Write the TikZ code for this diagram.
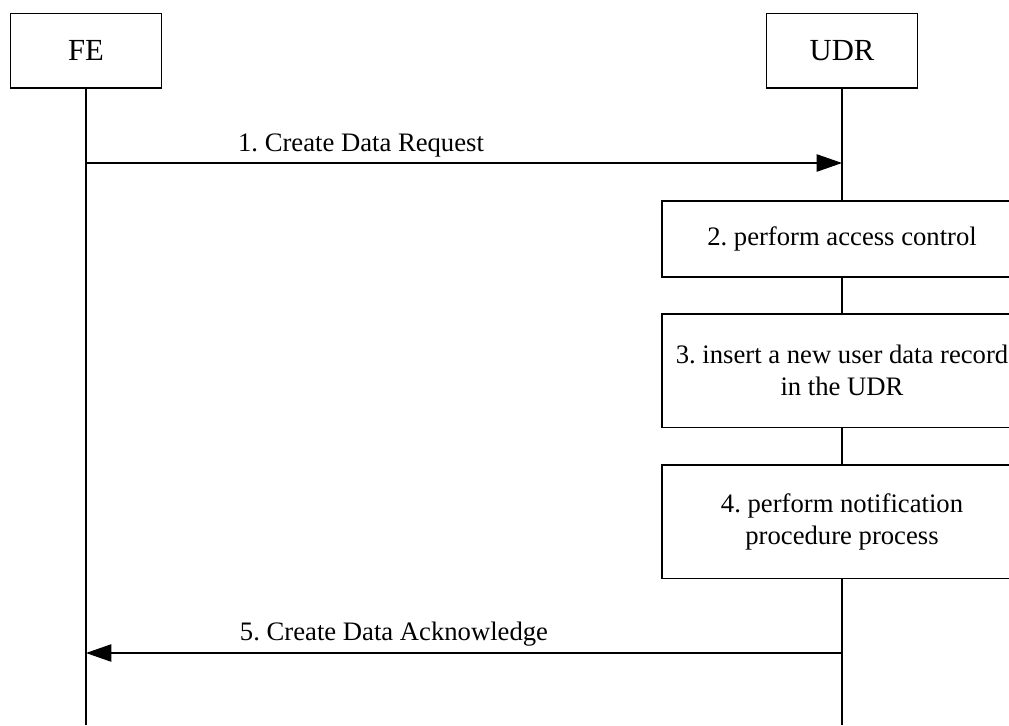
\documentclass[tikz,border=0pt]{standalone}
\usepackage{fontspec}
\setmainfont{Liberation Serif}
\usetikzlibrary{arrows.meta}
\frenchspacing

\begin{document}
\begin{tikzpicture}[x=0.75pt, y=-0.75pt, line width=1pt]
	\tikzstyle{every node}=[inner sep=1pt, align=center, font=\fontsize{20}{24}\selectfont]
	\tikzstyle{entity}=[draw, minimum width=113pt, minimum height=56pt, font=\fontsize{23}{27}\selectfont]
	\tikzstyle{process}=[draw, minimum width=270pt]
	\tikzstyle{msg}=[-{Triangle[length=19pt, width=13pt]}]
	\clip (0, 0) rectangle (1009, 725);
	\node[entity] (FE) at (86, 50.5) {FE};
	\node[entity] (UDR) at (842, 50.5) {UDR};
	\coordinate (FEend) at (86, 725);
	\coordinate (UDRend) at (842, 725);
	\node[process, minimum height=57pt] (P2) at (842, 239) {2. perform access control};
	\node[process, minimum height=85pt] (P3) at (842, 370.5) {3. insert a new user data record\\in the UDR};
	\node[process, minimum height=85pt] (P4) at (842, 521.5) {4. perform notification\\procedure process};
	\draw (FE) -- (FEend);
	\draw (UDR) -- (P2) -- (P3) -- (P4) -- (UDRend);
	\coordinate (M1a) at (86, 163);
	\coordinate (M1b) at (842, 163);
	\coordinate (M5a) at (842, 653);
	\coordinate (M5b) at (86, 653);
	\draw [msg] (M1a) -- (M1b);
	\node (L1) at (361, 146) {1. Create Data Request};
	\draw [msg] (M5a) -- (M5b);
	\node (L5) at (394, 634) {5. Create Data Acknowledge};
\end{tikzpicture}
\end{document}
